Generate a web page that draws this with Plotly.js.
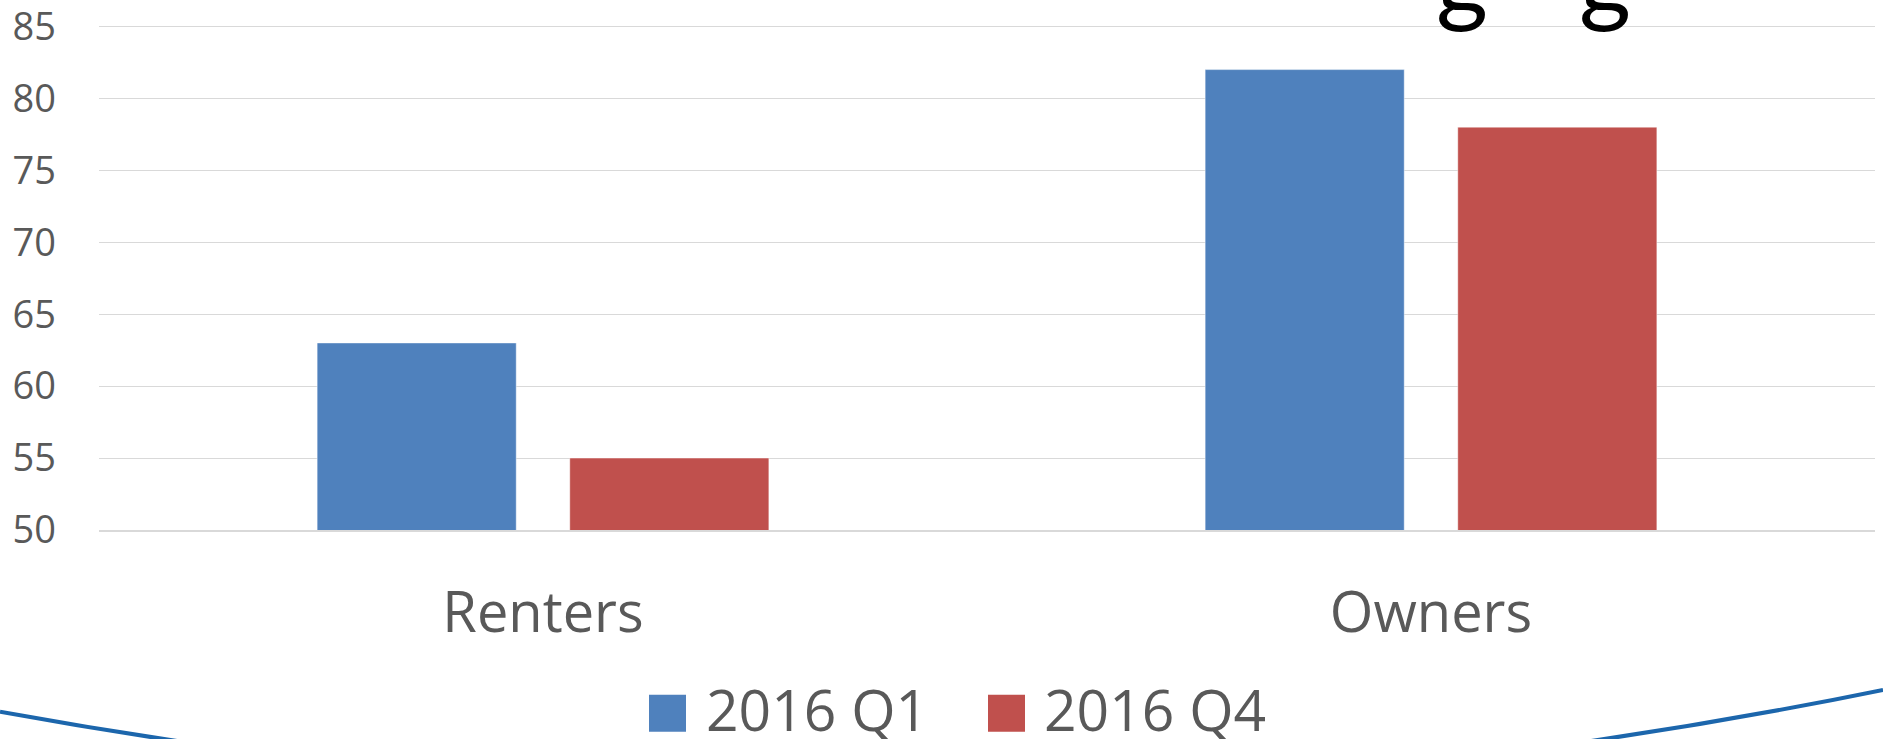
<!DOCTYPE html>
<html>
<head>
<meta charset="utf-8">
<script src="https://cdn.plot.ly/plotly-3.0.1.min.js"></script>
<style>
  html, body { margin: 0; padding: 0; background: #ffffff; }
  #chart { width: 1883px; height: 739px; }
</style>
</head>
<body>
<div id="chart"></div>
<script>
// ---- data ----
const categories = ['Renters', 'Owners'];
const q1Values = [63, 82];
const q4Values = [55, 78];
const seriesNames = ['2016 Q1', '2016 Q4'];
const seriesColors = ['#4F81BD', '#C0504D'];
const yTickValues = [50, 55, 60, 65, 70, 75, 80, 85];
const titleFragment = ['g', 'g'];

// ---- layout geometry (pixels) ----
const W = 1883, H = 739;
const M = { l: 99, r: 8, t: 24.5, b: 209 };
const PW = W - M.l - M.r, PH = H - M.t - M.b;
const px = x => (x - M.l) / PW;          // pixel -> paper x
const py = y => (H - M.b - y) / PH;      // pixel -> paper y

const font = '"Open Sans", "Noto Sans", sans-serif';
const grey = '#595959';

const traces = [q1Values, q4Values].map((vals, i) => ({
  type: 'bar',
  name: seriesNames[i],
  x: categories,
  y: vals,
  base: 0,
  marker: { color: seriesColors[i], line: { color: 'rgba(255,255,255,0.45)', width: 1 } },
  hoverinfo: 'x+y+name',
  showlegend: false
}));

// manual legend (large squares as in the reference)
const legendSquares = [[649, 686], [988, 1025]];
const legendTextX = [704, 1042];
const shapes = [];
const annotations = [];
seriesNames.forEach((name, i) => {
  shapes.push({
    type: 'rect', xref: 'paper', yref: 'paper', layer: 'above',
    x0: px(legendSquares[i][0]), x1: px(legendSquares[i][1]),
    y0: py(732), y1: py(695),
    fillcolor: seriesColors[i], line: { width: 0 }
  });
  annotations.push({
    xref: 'paper', yref: 'paper', x: px(legendTextX[i]), y: py(709),
    xanchor: 'left', yanchor: 'middle', showarrow: false,
    text: name, font: { family: font, size: 57, color: grey }
  });
});

// decorative slide curve at the bottom
const p0 = [0, 712], c = [938, 884], p2 = [1883, 690];
shapes.push({
  type: 'path', xref: 'paper', yref: 'paper', layer: 'above',
  path: `M ${px(p0[0])},${py(p0[1])} Q ${px(c[0])},${py(c[1])} ${px(p2[0])},${py(p2[1])}`,
  line: { color: '#1c66ac', width: 4 }
});

// clipped slide-title fragment at the very top
const fragX = [1462, 1605];
titleFragment.forEach((t, i) => {
  annotations.push({
    xref: 'paper', yref: 'paper', x: px(fragX[i]), y: py(37),
    xanchor: 'center', yanchor: 'bottom', showarrow: false,
    text: t, font: { family: 'Lato, "Open Sans", sans-serif', size: 100, color: '#000000' }
  });
});

const layout = {
  width: W, height: H,
  margin: M,
  paper_bgcolor: '#ffffff',
  plot_bgcolor: '#ffffff',
  barmode: 'group',
  bargap: 0.431,
  bargroupgap: 0.212,
  showlegend: false,
  xaxis: {
    type: 'category',
    categoryorder: 'array', categoryarray: categories,
    showgrid: false, zeroline: false,
    showline: true, linecolor: '#d9d9d9', linewidth: 2,
    ticks: '',
    ticklabelstandoff: 33,
    tickfont: { family: font, size: 56, color: grey }
  },
  yaxis: {
    range: [50, 85.1],
    tickmode: 'array', tickvals: yTickValues,
    showgrid: true, gridcolor: '#d9d9d9', gridwidth: 1.3,
    zeroline: false, showline: false, ticks: '',
    ticklabelstandoff: 42,
    ticklabeloverflow: 'allow',
    tickfont: { family: font, size: 38, color: grey }
  },
  shapes: shapes,
  annotations: annotations
};

Plotly.newPlot('chart', traces, layout, { displayModeBar: false });
</script>
</body>
</html>
